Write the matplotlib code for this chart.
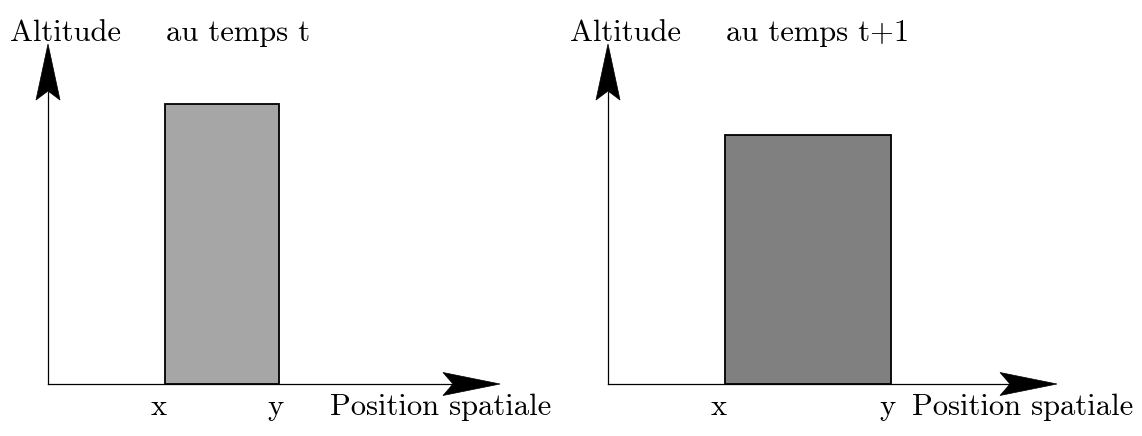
import matplotlib.pyplot as plt
from matplotlib.patches import Polygon

# data for the two panels (units = pixels from the origin of each panel)
titles = ['au temps t', 'au temps t+1']
bar_start = [117, 117]
bar_end = [231, 283]
heights = [280, 249]
bar_colors = ['#a6a6a6', '#808080']

# layout
W, H = 1142, 436
origin_x = [48, 608]
origin_y = 52
x_len = [452, 449]
y_len = 340
pos_label_x = [282, 304]

plt.rcParams['font.family'] = ['cmr10', 'DejaVu Serif']
FS = 22

fig = plt.figure(figsize=(W / 100, H / 100), dpi=100)


def arrowhead(ax, tip, direction, length=57, half=11.5, notch=10):
    tx, ty = tip
    if direction == 'x':
        pts = [(tx, ty), (tx - length, ty + half), (tx - length + notch, ty), (tx - length, ty - half)]
    else:
        pts = [(tx, ty), (tx - half, ty - length), (tx, ty - length + notch), (tx + half, ty - length)]
    ax.add_patch(Polygon(pts, closed=True, facecolor='black', edgecolor='black', lw=0.5, clip_on=False))


for i in range(2):
    xl = x_len[i]
    ax = fig.add_axes([origin_x[i] / W, origin_y / H, xl / W, y_len / H])
    ax.set_xlim(0, xl)
    ax.set_ylim(0, y_len)
    ax.axis('off')

    ax.bar(bar_start[i], heights[i], width=bar_end[i] - bar_start[i], align='edge',
           color=bar_colors[i], edgecolor='black', linewidth=1.3, zorder=3)

    # axes with arrows
    ax.plot([0, xl - 48], [0, 0], color='black', lw=0.9, clip_on=False)
    ax.plot([0, 0], [0, y_len - 48], color='black', lw=0.9, clip_on=False)
    arrowhead(ax, (xl, 0), 'x')
    arrowhead(ax, (0, y_len), 'y', length=56, half=12, notch=9)

    ax.text(-38, 343, 'Altitude', fontsize=FS, va='baseline', ha='left', clip_on=False)
    ax.text(bar_start[i] + 1, 343, titles[i], fontsize=FS, va='baseline', ha='left', clip_on=False)
    ax.text(bar_start[i] - 6, -31, 'x', fontsize=FS, va='baseline', ha='center', clip_on=False)
    ax.text(bar_end[i] - 4, -31, 'y', fontsize=FS, va='baseline', ha='center', clip_on=False)
    ax.text(pos_label_x[i], -31, 'Position spatiale', fontsize=FS, va='baseline', ha='left', clip_on=False)

fig.savefig('out.png', dpi=100)
